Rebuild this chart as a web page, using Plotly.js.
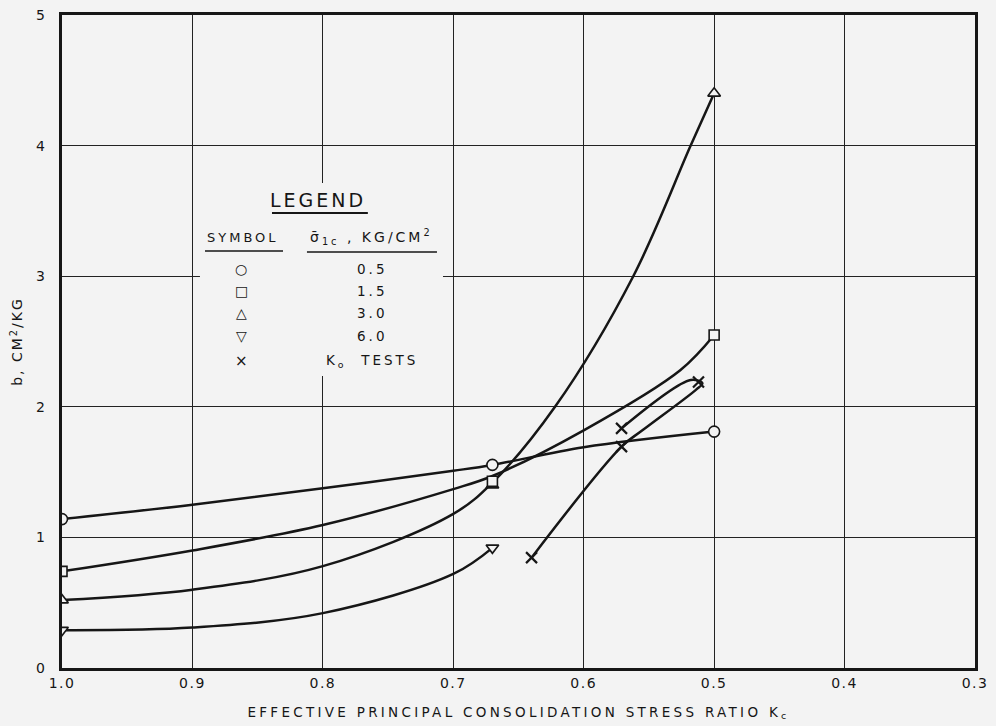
<!DOCTYPE html>
<html>
<head>
<meta charset="utf-8">
<script src="https://cdn.plot.ly/plotly-3.0.1.min.js"></script>
<style>
html,body{margin:0;padding:0;background:#f3f3f3;}
#chart{width:996px;height:726px;}
.xtitle{letter-spacing:3.3px;}
.ytitle{letter-spacing:2px;}
.annotation-text{letter-spacing:3px;}
.xtick text,.ytick text{letter-spacing:1.5px;}
</style>
</head>
<body>
<div id="chart"></div>
<script>
// ---- data ----
// marker points (Kc, b)
var circleK = [1.0, 0.67, 0.5];
var circleB = [1.14, 1.555, 1.81];
var squareK = [1.0, 0.67, 0.5];
var squareB = [0.74, 1.43, 2.55];
var triUpK = [1.0, 0.67, 0.5];
var triUpB = [0.52, 1.40, 4.40];
var triDownK = [1.0, 0.67];
var triDownB = [0.29, 0.92];
var koK = [0.64, 0.571, 0.571, 0.512];
var koB = [0.845, 1.695, 1.835, 2.19];

// hand-drawn curves
var curveCircleK = [1.0, 0.9, 0.8, 0.7, 0.67, 0.6, 0.5];
var curveCircleB = [1.14, 1.25, 1.376, 1.51, 1.555, 1.69, 1.81];
var curveSquareK = [1.0, 0.9, 0.8, 0.7, 0.67, 0.6, 0.526, 0.5];
var curveSquareB = [0.74, 0.90, 1.095, 1.37, 1.47, 1.82, 2.28, 2.55];
var curveTriUpK = [1.0, 0.9, 0.8, 0.7, 0.67, 0.622, 0.562, 0.518, 0.5];
var curveTriUpB = [0.52, 0.60, 0.78, 1.18, 1.42, 2.0, 3.0, 4.0, 4.40];
var curveTriDownK = [1.0, 0.9, 0.8, 0.7, 0.67];
var curveTriDownB = [0.29, 0.31, 0.42, 0.72, 0.92];
var curveKoK = [0.64, 0.571, 0.555, 0.514, 0.509, 0.518, 0.571];
var curveKoB = [0.845, 1.695, 1.82, 2.13, 2.18, 2.205, 1.835];

// tick labels
var xTickVals = [1.0, 0.9, 0.8, 0.7, 0.6, 0.5, 0.4, 0.3];
var xTickText = ["1.0", "0.9", "0.8", "0.7", "0.6", "0.5", "0.4", "0.3"];
var yTickVals = [0, 1, 2, 3, 4, 5];
var yTickText = ["0", "1", "2", "3", "4", "5"];

// legend entries
var legendSymbols = ["○", "□", "△", "▽", "×"];
var legendValues = ["0.5", "1.5", "3.0", "6.0", "K<sub>o</sub>  TESTS"];

var BG = '#f3f3f3';
var INK = '#161616';
var FONT = 'DejaVu Sans, Arial, sans-serif';

function curve(k, b) {
  return {x: k, y: b, type: 'scatter', mode: 'lines',
    line: {color: INK, width: 2.5, shape: 'spline', smoothing: 1.0},
    hoverinfo: 'skip', showlegend: false};
}
function marks(k, b, sym, size) {
  return {x: k, y: b, type: 'scatter', mode: 'markers',
    marker: {symbol: sym, size: size, color: BG, line: {color: INK, width: 1.6}},
    showlegend: false};
}

var traces = [
  curve(curveCircleK, curveCircleB),
  curve(curveSquareK, curveSquareB),
  curve(curveTriUpK, curveTriUpB),
  curve(curveTriDownK, curveTriDownB),
  curve(curveKoK, curveKoB),
  marks(triUpK, triUpB, 'triangle-up', 11),
  marks(triDownK, triDownB, 'triangle-down', 11),
  marks(squareK, squareB, 'square', 10),
  marks(circleK, circleB, 'circle', 11),
  {x: koK, y: koB, type: 'scatter', mode: 'markers',
   marker: {symbol: 'x-thin', size: 11, line: {color: INK, width: 2.2}}, showlegend: false}
];

// legend layout (paper coords)
var symX = 0.1982, valX = 0.3395;
var rowY = [0.611, 0.5773, 0.5436, 0.5084, 0.4701];
var annotations = [
  {text: 'LEGEND', x: 0.2804, y: 0.7167, font: {size: 19}},
  {text: 'SYMBOL', x: symX, y: 0.660, font: {size: 13}},
  {text: 'σ̄<sub>1c</sub> , KG/CM<sup>2</sup>', x: valX, y: 0.660, font: {size: 14}}
];
for (var i = 0; i < legendSymbols.length; i++) {
  annotations.push({text: legendSymbols[i], x: symX, y: rowY[i], font: {size: i === 4 ? 15 : 14}});
  annotations.push({text: legendValues[i], x: valX, y: rowY[i], font: {size: 13.5}});
}
annotations.forEach(function (a) {
  a.xref = 'paper'; a.yref = 'paper'; a.showarrow = false;
  a.xanchor = 'center'; a.yanchor = 'middle';
  a.font.family = FONT; a.font.color = INK;
});

var shapes = [
  {type: 'rect', xref: 'paper', yref: 'paper', x0: 0.1511, x1: 0.4173, y0: 0.4472, y1: 0.7427,
   fillcolor: BG, line: {width: 0}, layer: 'above'},
  {type: 'line', xref: 'paper', yref: 'paper', x0: 0.230, x1: 0.335, y0: 0.6968, y1: 0.6968,
   line: {color: INK, width: 2.2}},
  {type: 'line', xref: 'paper', yref: 'paper', x0: 0.1566, x1: 0.2421, y0: 0.6386, y1: 0.6386,
   line: {color: INK, width: 1.6}},
  {type: 'line', xref: 'paper', yref: 'paper', x0: 0.2683, x1: 0.4107, y0: 0.637, y1: 0.637,
   line: {color: INK, width: 1.6}}
];

var layout = {
  width: 996, height: 726,
  margin: {l: 62, r: 21, t: 15, b: 58},
  paper_bgcolor: BG, plot_bgcolor: BG,
  font: {family: FONT, color: INK, size: 14},
  showlegend: false,
  xaxis: {
    range: [1.0, 0.3], tickvals: xTickVals, ticktext: xTickText,
    showgrid: true, gridcolor: '#222222', gridwidth: 1.2,
    zeroline: false, showline: true, mirror: true, linecolor: INK, linewidth: 2.8,
    ticks: '', tickfont: {size: 14, family: FONT, color: INK},
    title: {text: 'EFFECTIVE PRINCIPAL CONSOLIDATION STRESS RATIO K<sub>c</sub>',
            font: {size: 13.5, family: FONT, color: INK}, standoff: 18},
    automargin: false
  },
  yaxis: {
    range: [0, 5], tickvals: yTickVals, ticktext: yTickText,
    showgrid: true, gridcolor: '#222222', gridwidth: 1.2,
    zeroline: false, showline: true, mirror: true, linecolor: INK, linewidth: 2.8,
    ticks: '', tickfont: {size: 14, family: FONT, color: INK}, ticklabelstandoff: 10,
    title: {text: 'b, CM<sup>2</sup>/KG', font: {size: 14, family: FONT, color: INK}, standoff: 10},
    automargin: false
  },
  shapes: shapes,
  annotations: annotations
};

Plotly.newPlot('chart', traces, layout, {displayModeBar: false, staticPlot: true});
</script>
</body>
</html>
